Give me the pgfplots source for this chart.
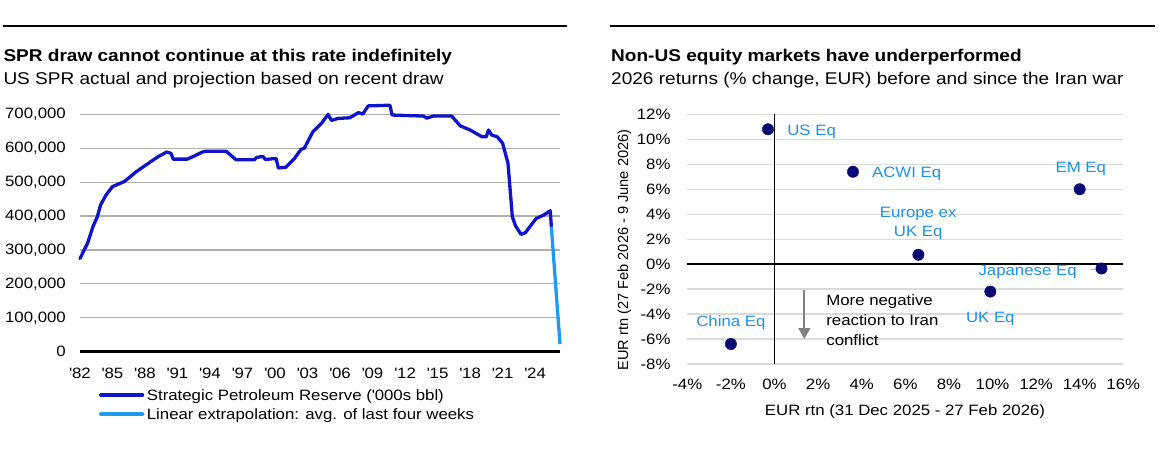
\documentclass[border=0pt]{standalone}
\usepackage{fontspec}
\setmainfont{Liberation Sans}[FakeStretch=1.12]
\newfontfamily\uprightlabel{Liberation Sans}
\usepackage{pgfplots}
\pgfplotsset{compat=1.18}
\usetikzlibrary{arrows.meta}

\definecolor{sprblue}{RGB}{15,20,200}
\definecolor{extblue}{RGB}{30,155,240}
\definecolor{navy}{RGB}{10,10,115}
\definecolor{lblue}{RGB}{30,144,230}
\definecolor{gridL}{RGB}{175,175,175}
\definecolor{gridR}{RGB}{218,218,218}
\definecolor{arrowgrey}{RGB}{128,128,128}

\newcommand{\q}{\textquotesingle}
\newcommand{\tfont}{\fontsize{15}{18}\selectfont}
\tikzset{lab/.style={font=\tfont, text=lblue, inner sep=0pt, anchor=base, yshift=-5.4pt}}

% SPR inventory, '000s bbl (decimal year, level)
\pgfplotstableread{
year value
1982.0 275000
1982.7 320000
1983.2 369000
1983.6 398000
1983.9 433000
1984.4 462000
1985.0 487000
1986.1 502000
1987.2 531000
1988.1 551000
1989.2 575000
1990.0 589000
1990.4 585000
1990.6 568000
1991.9 568000
1992.4 575000
1993.3 589000
1993.6 591000
1995.5 591000
1996.4 566000
1998.1 566000
1998.3 573000
1998.9 576000
1999.1 567000
2000.1 570000
2000.3 542000
2001.0 544000
2001.8 570000
2002.4 597000
2002.7 600000
2003.5 649000
2004.3 674000
2004.9 700000
2005.2 682000
2005.8 688000
2006.9 690000
2007.7 705000
2008.1 701000
2008.6 725000
2010.6 727000
2010.8 698000
2013.7 695000
2014.0 689000
2014.6 695000
2016.3 695000
2017.1 666000
2018.0 654000
2019.1 634000
2019.5 634000
2019.7 654000
2020.0 639000
2020.5 634000
2021.0 615000
2021.5 556000
2021.7 477000
2021.9 398000
2022.2 371000
2022.7 346000
2023.1 351000
2024.1 393000
2024.8 403000
2025.4 416000
2025.5 369000
}\sprdata

% Linear extrapolation of the recent draw
\pgfplotstableread{
year value
2025.5 369000
2026.3 22700
}\extdata

% EUR returns: before (x) and since (y) the war
\pgfplotstableread{
x y
-0.3 10.8
3.6 7.4
-2.0 -6.4
14.0 6.0
6.6 0.75
9.9 -2.2
15.0 -0.35
}\eqdata

\begin{document}
\begin{tikzpicture}[x=1pt,y=1pt]
\path[use as bounding box] (0,0) rectangle (1159,450);

% header rules
\draw[line width=2pt] (3,424) -- (566.7,424);
\draw[line width=2pt] (610,424) -- (1155,424);

% titles
\node[anchor=base west, inner sep=0pt, font=\fontsize{17}{20}\bfseries] at (3.3,388.3)
  {SPR draw cannot continue at this rate indefinitely};
\node[anchor=base west, inner sep=0pt, font=\fontsize{17}{20}\selectfont] at (3.3,365)
  {US SPR actual and projection based on recent draw};
\node[anchor=base west, inner sep=0pt, font=\fontsize{17}{20}\bfseries] at (611,388.3)
  {Non-US equity markets have underperformed};
\node[anchor=base west, inner sep=0pt, font=\fontsize{17}{20}\selectfont] at (611,365)
  {2026 returns (\% change, EUR) before and since the Iran war};

% ---------- SPR chart ----------
\begin{axis}[
  at={(80pt,98.3pt)}, anchor=south west,
  scale only axis, width=480pt, height=247.5pt,
  xmin=1982, xmax=2026.3, ymin=0, ymax=730000,
  axis line style={draw=none}, major tick length=0pt,
  xtick={1982,1985,...,2024},
  xticklabels={\q82,\q85,\q88,\q91,\q94,\q97,\q00,\q03,\q06,\q09,\q12,\q15,\q18,\q21,\q24},
  ytick={0,100000,...,700000},
  scaled y ticks=false,
  yticklabels={0,{100,000},{200,000},{300,000},{400,000},{500,000},{600,000},{700,000}},
  ymajorgrids, grid style={color=gridL, line width=1.2pt},
  tick label style={font=\tfont, inner sep=0pt},
  yticklabel style={anchor=east, xshift=-14pt},
  xticklabel style={anchor=base, yshift=-26.4pt},
  clip=false,
]
\draw[black, line width=3.5pt] (rel axis cs:0,0) -- (rel axis cs:1,0);
\addplot[sprblue, line width=3.3pt, line join=round, line cap=round] table[x=year,y=value] {\sprdata};
\addplot[extblue, line width=3.3pt, line join=round] table[x=year,y=value] {\extdata};
\end{axis}

% legend
\draw[sprblue, line width=4pt, line cap=round] (101,55) -- (142.3,55);
\node[anchor=base west, inner sep=0pt, font=\tfont] at (146.7,49.6)
  {Strategic Petroleum Reserve (\q000s bbl)};
\draw[extblue, line width=4pt, line cap=round] (101,35.7) -- (142.3,35.7);
\node[anchor=base west, inner sep=0pt, font=\tfont] at (146.7,30.3)
  {Linear extrapolation: avg. of last four weeks};

% ---------- Equity scatter ----------
\begin{axis}[
  at={(687.3pt,86pt)}, anchor=south west,
  scale only axis, width=436pt, height=249.7pt,
  xmin=-4, xmax=16, ymin=-8, ymax=12,
  axis line style={draw=none}, major tick length=0pt,
  xtick={-4,-2,...,16},
  xticklabels={-4\%,-2\%,0\%,2\%,4\%,6\%,8\%,10\%,12\%,14\%,16\%},
  ytick={-8,-6,...,12},
  yticklabels={-8\%,-6\%,-4\%,-2\%,0\%,2\%,4\%,6\%,8\%,10\%,12\%},
  ymajorgrids, grid style={color=gridR, line width=1.2pt},
  tick label style={font=\tfont, inner sep=0pt},
  yticklabel style={anchor=east, xshift=-16.6pt},
  xticklabel style={anchor=base, yshift=-25.4pt},
  clip=false,
]
\draw[black, line width=1.8pt] (axis cs:0,-8) -- (axis cs:0,12);
\draw[black, line width=1.8pt] (axis cs:-4,0) -- (axis cs:16,0);
\draw[arrowgrey, line width=1.8pt, -{Triangle[width=12pt,length=11pt]}] (axis cs:1.37,-2.06) -- (axis cs:1.37,-6.0);
\node[anchor=base west, inner sep=0pt, align=left, font=\fontsize{15}{20}\selectfont] at (axis cs:2.37,-6.52)
  {More negative\\reaction to Iran\\conflict};
\draw[gridL, line width=1.2pt] (axis cs:14.53,-0.4) -- (axis cs:14.9,-0.4);
\addplot[only marks, mark=*, mark size=5.7pt, color=navy] table[x=x,y=y] {\eqdata};
\node[lab, anchor=base west] at (axis cs:0.58,10.74) {US Eq};
\node[lab, anchor=base west] at (axis cs:4.47,7.34) {ACWI Eq};
\node[lab] at (axis cs:-2.0,-4.54) {China Eq};
\node[lab] at (axis cs:14.05,7.8) {EM Eq};
\node[lab, align=center, font=\fontsize{15}{19}\selectfont] at (axis cs:6.59,2.61) {Europe ex\\UK Eq};
\node[lab] at (axis cs:11.61,-0.48) {Japanese Eq};
\node[lab] at (axis cs:9.9,-4.22) {UK Eq};
\end{axis}

% axis titles
\node[anchor=base, inner sep=0pt, font=\tfont] at (905,34.6)
  {EUR rtn (31 Dec 2025 - 27 Feb 2026)};
\node[anchor=base, inner sep=0pt, rotate=90, font=\uprightlabel\fontsize{14.6}{18}\selectfont] at (628.1,200)
  {EUR rtn (27 Feb 2026 - 9 June 2026)};
\end{tikzpicture}
\end{document}
